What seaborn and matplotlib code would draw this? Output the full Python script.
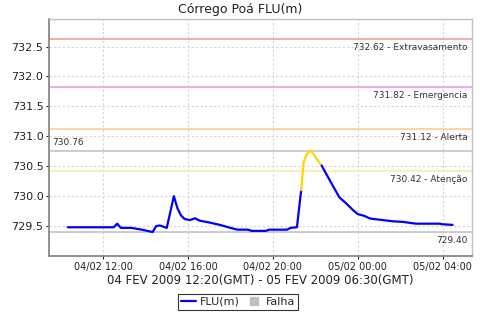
import matplotlib
matplotlib.use("Agg")
import matplotlib.pyplot as plt
import matplotlib.dates as mdates
from matplotlib.lines import Line2D
import numpy as np
import pandas as pd
import seaborn as sns

# ---- data ----
times = [
    "2009-02-04 10:20", "2009-02-04 12:30", "2009-02-04 12:40", "2009-02-04 12:50",
    "2009-02-04 13:20", "2009-02-04 13:30", "2009-02-04 13:50", "2009-02-04 14:20",
    "2009-02-04 14:30", "2009-02-04 14:40", "2009-02-04 15:00", "2009-02-04 15:20",
    "2009-02-04 15:30", "2009-02-04 15:40", "2009-02-04 15:50", "2009-02-04 16:05",
    "2009-02-04 16:20", "2009-02-04 16:33", "2009-02-04 17:00", "2009-02-04 17:30",
    "2009-02-04 18:00", "2009-02-04 18:20", "2009-02-04 18:50", "2009-02-04 19:00",
    "2009-02-04 19:40", "2009-02-04 19:50", "2009-02-04 20:40", "2009-02-04 20:50",
    "2009-02-04 21:08", "2009-02-04 21:20", "2009-02-04 21:27", "2009-02-04 21:36",
    "2009-02-04 21:46", "2009-02-04 21:56", "2009-02-04 22:05", "2009-02-04 22:13",
    "2009-02-04 22:18", "2009-02-04 22:31", "2009-02-04 22:49", "2009-02-04 23:08",
    "2009-02-04 23:27", "2009-02-04 23:46", "2009-02-05 00:00", "2009-02-05 00:19",
    "2009-02-05 00:33", "2009-02-05 00:42", "2009-02-05 01:11", "2009-02-05 01:39",
    "2009-02-05 02:07", "2009-02-05 02:45", "2009-02-05 03:51", "2009-02-05 04:00",
    "2009-02-05 04:28",
]
flu = [
    729.48, 729.48, 729.54, 729.47,
    729.47, 729.46, 729.44, 729.40,
    729.50, 729.51, 729.47, 730.00,
    729.80, 729.68, 729.62, 729.60,
    729.63, 729.59, 729.56, 729.52,
    729.47, 729.44, 729.44, 729.42,
    729.42, 729.44, 729.44, 729.47,
    729.48, 730.10, 730.57, 730.70,
    730.76, 730.70, 730.61, 730.55,
    730.51, 730.37, 730.18, 729.98,
    729.88, 729.77, 729.70, 729.67,
    729.63, 729.62, 729.60, 729.58,
    729.57, 729.54, 729.54, 729.53,
    729.52,
]
threshold_values = [732.62, 731.82, 731.12, 730.42]
threshold_names = ["Extravasamento", "Emergencia", "Alerta", "Atenção"]
threshold_colors = ["#f0a0a0", "#ee9cee", "#ffcc99", "#f5efa5"]
y_ticks = [729.5, 730.0, 730.5, 731.0, 731.5, 732.0, 732.5]
title = "Córrego Poá FLU(m)"
xlabel = "04 FEV 2009 12:20(GMT) - 05 FEV 2009 06:30(GMT)"

# ---- build colored runs (segment colored by its end value vs. attention level) ----
t = pd.to_datetime(times)
v = np.array(flu)
attn = threshold_values[-1]
rows = []
run = 0
prev_state = None
for i in range(1, len(v)):
    state = v[i] > attn
    if prev_state is not None and state != prev_state:
        run += 1
    for j in (i - 1, i):
        rows.append({"t": t[j], "v": v[j], "run": run, "state": "alarm" if state else "ok"})
    prev_state = state
df = pd.DataFrame(rows)
palette = {r: ("#ffd700" if df[df.run == r].state.iloc[0] == "alarm" else "#0000ff")
           for r in df.run.unique()}

# ---- figure ----
sns.set_style("white")
plt.rcParams["font.family"] = ["DejaVu Sans"]
fig = plt.figure(figsize=(4.8, 3.2), dpi=100)
ax = fig.add_axes([49 / 480, 1 - 256 / 320, (472 - 49) / 480, (256 - 19) / 320])

ax.set_ylim(729.0, 732.96)
xmin = pd.Timestamp("2009-02-04 09:27")
xmax = pd.Timestamp("2009-02-05 05:23")
ax.set_xlim(xmin, xmax)

ax.xaxis.set_major_locator(mdates.HourLocator(byhour=[0, 4, 8, 12, 16, 20]))
ax.xaxis.set_major_formatter(mdates.DateFormatter("%d/%m %H:%M"))
ax.set_yticks(y_ticks)
ax.yaxis.set_major_formatter(matplotlib.ticker.FormatStrFormatter("%.1f"))

ax.grid(True, color="#d4d4d4", linestyle=(0, (2, 2)), linewidth=0.8)
ax.set_axisbelow(True)

# threshold lines
for val, name, col in zip(threshold_values, threshold_names, threshold_colors):
    ax.axhline(val, color=col, lw=1.2, zorder=1.5)
    ax.text(0.99, val - 0.06, f"{val:.2f} - {name}", transform=ax.get_yaxis_transform(),
            ha="right", va="top", fontsize=6.5, color="#333333")

vmax, vmin = v.max(), v.min()
ax.axhline(vmax, color="#c4c4c4", lw=1.2, zorder=1.5)
ax.text(0.008, vmax + 0.06, f"{vmax:.2f}", transform=ax.get_yaxis_transform(),
        ha="left", va="bottom", fontsize=6.5, color="#333333")
ax.axhline(vmin, color="#c4c4c4", lw=1.2, zorder=1.5)
ax.text(0.99, vmin - 0.06, f"{vmin:.2f}", transform=ax.get_yaxis_transform(),
        ha="right", va="top", fontsize=6.5, color="#333333")

sns.lineplot(data=df, x="t", y="v", hue="run", palette=palette, estimator=None,
             sort=False, units="run", lw=1.6, legend=False, ax=ax, zorder=3)

ax.set_xlabel(xlabel, fontsize=8.5, color="#222222", labelpad=2)
ax.set_ylabel("")
ax.tick_params(axis="both", labelsize=7, colors="#222222", length=2, width=0.8,
               direction="out", pad=2, bottom=True, left=True)
ax.tick_params(axis="y", labelsize=8)
for s in ("left", "bottom"):
    ax.spines[s].set_color("#888888")
    ax.spines[s].set_linewidth(1.3)
for s in ("top", "right"):
    ax.spines[s].set_color("#c0c0c0")
    ax.spines[s].set_linewidth(1.0)

fig.text(240 / 480, 1 - 9 / 320, title, ha="center", va="center", fontsize=9, color="#222222")

handles = [Line2D([0], [0], color="#0000ff", lw=1.6),
           Line2D([0], [0], marker="s", color="#c0c0c0", linestyle="none", markersize=6)]
leg = fig.legend(handles, ["FLU(m)", "Falha"], loc="center", bbox_to_anchor=(238 / 480, 1 - 302 / 320),
                 ncol=2, fontsize=8, frameon=True, fancybox=False, handlelength=1.3,
                 handletextpad=0.4, columnspacing=0.6, borderpad=0.3, borderaxespad=0)
leg.get_frame().set_edgecolor("black")
leg.get_frame().set_linewidth(0.8)

fig.savefig("out.png", dpi=100)
